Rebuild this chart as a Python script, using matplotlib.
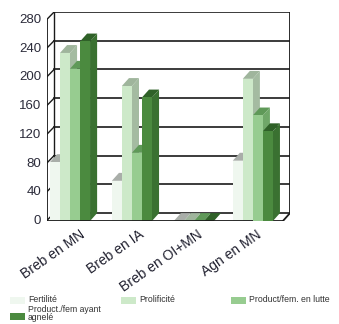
import numpy as np
import matplotlib.pyplot as plt
from matplotlib.patches import Polygon, Rectangle

plt.rcParams['font.family'] = ['Liberation Sans', 'DejaVu Sans']

# donnees
categories = ['Breb en MN', 'Breb en IA', 'Breb en OI+MN', 'Agn en MN']
series = ['Fertilité', 'Prolificité', 'Product/fem. en lutte', 'Product./fem ayant\nagnelé']
fertilite = [82, 56, 0, 84]
prolificite = [234, 188, 0, 198]
prod_lutte = [212, 95, 0, 147]
prod_agnele = [250, 172, 0, 125]
yticks = [0, 40, 80, 120, 160, 200, 240, 280]

valeurs = [fertilite, prolificite, prod_lutte, prod_agnele]
c_face = ['#eff7ef', '#cde9c9', '#97cc90', '#4b8a3f']
c_side = ['#c9d3c9', '#a4bba1', '#6fa768', '#3a7131']
c_top = ['#a9aea9', '#9fb59c', '#5f9958', '#2f6128']

DX, DY = 0.12, 11.0   # profondeur du pseudo 3D
W = 0.17              # largeur d'une barre
debut = [0.05, 0.1, 0.15, 0.15]  # decalage des groupes

fig = plt.figure(figsize=(3.39, 3.24), dpi=100)
ax = fig.add_axes([0.1386, 0.3179, 0.7168, 0.645])
ax.set_xlim(0, 4 + DX)
ax.set_ylim(0, 280 + DY)
ax.axis('off')

# paroi du fond et cadre
for v in yticks:
    ax.plot([DX, 4 + DX], [v + DY, v + DY], color='#1a1a1a', lw=1.2, zorder=1)
    ax.plot([-0.07, DX], [v - 5, v + DY], color='#1a1a1a', lw=1.0, zorder=1)
    ax.text(-0.1, v, str(v), ha='right', va='center', fontsize=9.5,
            color='#2b2b3a')
ax.plot([0, 0], [0, 280], color='#1a1a1a', lw=1.3, zorder=1)
ax.plot([DX, DX], [DY, 280 + DY], color='#1a1a1a', lw=1.0, zorder=1)
ax.plot([4 + DX, 4 + DX], [DY, 280 + DY], color='#1a1a1a', lw=1.3, zorder=1)
ax.plot([0, 4], [0, 0], color='#1a1a1a', lw=1.3, zorder=30)
ax.plot([4, 4 + DX], [0, DY], color='#1a1a1a', lw=1.3, zorder=30)

z = 2
for i in range(len(categories)):
    for k, vals in enumerate(valeurs):
        x0 = i + debut[i] + k * W
        h = vals[i]
        # face laterale
        ax.add_patch(Polygon([(x0 + W, 0), (x0 + W + DX, DY), (x0 + W + DX, h + DY), (x0 + W, h)],
                             closed=True, facecolor=c_side[k], edgecolor='none', zorder=z))
        # dessus
        ax.add_patch(Polygon([(x0, h), (x0 + DX, h + DY), (x0 + W + DX, h + DY), (x0 + W, h)],
                             closed=True, facecolor=c_top[k], edgecolor='none', zorder=z))
        # face avant
        ax.bar(x0, h, width=W, align='edge', color=c_face[k], edgecolor='none', zorder=z + 1)
        z += 2

for i, cat in enumerate(categories):
    ax.text(i + 0.55, -9, cat, rotation=35, rotation_mode='anchor', ha='right', va='top',
            fontsize=10, color='#1f1f2e', clip_on=False)

# legende
leg_pos = [(10, 300), (121, 300), (231, 300), (10, 316)]
for k, (px, py) in enumerate(leg_pos):
    fig.patches.append(Rectangle((px / 339, 1 - (py + 3.5) / 324), 15 / 339, 7 / 324,
                                 transform=fig.transFigure, facecolor=c_face[k],
                                 edgecolor='none'))
    if k < 3:
        fig.text((px + 18) / 339, 1 - (py - 0.5) / 324, series[k], ha='left', va='center',
                 fontsize=6.3, color='#333333')
    else:
        fig.text((px + 18) / 339, 1 - 305 / 324, series[k], ha='left', va='top',
                 fontsize=6.2, color='#333333', linespacing=0.9)

fig.savefig('out.png', dpi=100)
